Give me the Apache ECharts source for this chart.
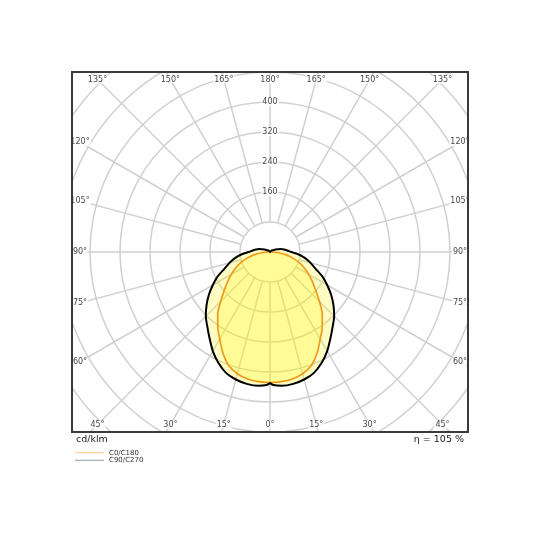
<!DOCTYPE html>
<html>
<head>
<meta charset="utf-8">
<script src="https://cdn.jsdelivr.net/npm/echarts@6/dist/echarts.min.js"></script>
<style>
html,body{margin:0;padding:0;background:#fff;}
#chart{width:540px;height:540px;}
</style>
</head>
<body>
<div id="chart"></div>
<script>
// ---------------- data ----------------
const seriesNames = ['C0/C180', 'C90/C270'];
// gamma angles (deg, 0 = nadir) and luminous intensity (cd/klm), symmetric halves
const gammaC0 = [0,5,10,15,20,25,30,35,40,45,50,55,60,65,70,75,80,85,90,95,100,105,110,115,120,125,130,135,140,145,150,155,160,165,170,175,180];
const valuesC0 = [348,347,344,336,322,297,268,243,217,186,159,138,119,101,84,63,44,23,3,0,0,0,0,0,0,0,0,0,0,0,0,0,0,0,0,0,0];
const gammaC90 = [0,1.5,5,10,15,20,25,30,35,40,45,50,55,60,65,70,75,80,85,90,95,100,105,110,115,120,130,140,150,160,170,177,180];
const valuesC90 = [349,355,358,357,352,343,326,305,281,260,242,221,199,176,154,129,112,95,77,57,46,38,30,22,16,11,6,4,3,2,1.5,1,0];
const angleTicks = [0,15,30,45,60,75,90,105,120,135,150,165,180];
const radiusTicks = [160,240,320,400];
const unitLabel = 'cd/klm';
const efficiencyLabel = 'η = 105 %';

// ---------------- layout ----------------
const BOX = {x0: 72, y0: 72, x1: 468, y1: 432};
const CX = (BOX.x0 + BOX.x1) / 2, CY = (BOX.y0 + BOX.y1) / 2;
const PX_PER_UNIT = 30 / 80;
const R_MAX = 720, R_STEP = 80;
const R_OUT = R_MAX * PX_PER_UNIT, R_IN = R_STEP * PX_PER_UNIT;
const LABEL_INSET_X = (BOX.x1 - BOX.x0) / 2 - 8;
const LABEL_INSET_Y = (BOX.y1 - BOX.y0) / 2 - 7.5;
const FONT = 'DejaVu Sans';
const GRID = '#d0d0d0';

// polar angle a: 0 at bottom, clockwise (left half a = gamma, right half a = 360 - gamma)
function buildCurve(gam, vals) {
  const out = [];
  for (let i = 0; i < gam.length; i++) out.push([vals[i], gam[i]]);
  for (let i = gam.length - 1; i >= 0; i--) {
    if (gam[i] >= 180) continue;
    out.push([vals[i], 360 - gam[i]]);
  }
  return out;
}

function edgeRadius(g) {
  const t = g * Math.PI / 180;
  const s = Math.abs(Math.sin(t)), c = Math.abs(Math.cos(t));
  const rx = s > 1e-9 ? LABEL_INSET_X / s : Infinity;
  const ry = c > 1e-9 ? LABEL_INSET_Y / c : Infinity;
  return Math.min(rx, ry) / PX_PER_UNIT;
}
const edgeLabelData = [];
angleTicks.forEach(g => {
  const r = edgeRadius(g);
  edgeLabelData.push({value: [r, g], name: g + '°'});
  if (g > 0 && g < 180) edgeLabelData.push({value: [r, 360 - g], name: g + '°'});
});
const radiusLabelData = radiusTicks.map(v => ({value: [v, 180], name: String(v)}));

const hiddenAxis = {axisLine:{show:false}, axisTick:{show:false}, axisLabel:{show:false}, splitLine:{show:false}};

const chart = echarts.init(document.getElementById('chart'), null, {renderer: 'canvas'});
chart.setOption({
  animation: false,
  backgroundColor: '#fff',
  textStyle: {fontFamily: FONT},
  polar: [
    {center: [CX, CY], radius: [R_IN, R_OUT]},
    {center: [CX, CY], radius: [0, R_OUT]}
  ],
  angleAxis: [
    {polarIndex: 0, type: 'value', min: 0, max: 360, interval: 15, startAngle: 270, clockwise: true,
     axisLine: {show: false}, axisTick: {show: false}, axisLabel: {show: false},
     splitLine: {show: true, lineStyle: {color: GRID, width: 1.5}}},
    Object.assign({polarIndex: 1, type: 'value', min: 0, max: 360, startAngle: 270, clockwise: true}, hiddenAxis)
  ],
  radiusAxis: [
    {polarIndex: 0, type: 'value', min: R_STEP, max: R_MAX, interval: R_STEP,
     axisLine: {show: false}, axisTick: {show: false}, axisLabel: {show: false},
     splitLine: {show: true, lineStyle: {color: GRID, width: 1.5}}},
    Object.assign({polarIndex: 1, type: 'value', min: 0, max: R_MAX}, hiddenAxis)
  ],
  legend: {
    orient: 'vertical', left: 75, top: 449, itemGap: 0, padding: 0,
    icon: 'rect', itemWidth: 29, itemHeight: 1, selectedMode: false, z: 10,
    textStyle: {fontSize: 7, color: '#333', fontFamily: FONT, lineHeight: 7.5},
    data: [
      {name: seriesNames[0], itemStyle: {color: '#f6c88a'}},
      {name: seriesNames[1], itemStyle: {color: '#8f9ba8'}}
    ]
  },
  series: [
    {name: seriesNames[0], type: 'line', coordinateSystem: 'polar', polarIndex: 1,
     data: buildCurve(gammaC0, valuesC0), symbol: 'none', silent: true, z: 2, smooth: 0.25,
     lineStyle: {color: '#f09a18', width: 1.7},
     areaStyle: {color: 'rgba(255,246,0,0.33)'}},
    {name: seriesNames[1], type: 'line', coordinateSystem: 'polar', polarIndex: 1,
     data: buildCurve(gammaC90, valuesC90), symbol: 'none', silent: true, z: 2, smooth: 0.25,
     lineStyle: {color: '#000', width: 2},
     areaStyle: {color: 'rgba(255,246,0,0.33)'}},
    {type: 'scatter', coordinateSystem: 'polar', polarIndex: 0, data: radiusLabelData,
     symbolSize: 1, itemStyle: {color: 'transparent'}, silent: true, z: 2,
     label: {show: true, position: 'inside', formatter: p => p.name, fontSize: 8, color: '#111',
             fontFamily: FONT, backgroundColor: '#fff', padding: [0, 1]}},
    {type: 'scatter', coordinateSystem: 'polar', polarIndex: 1, data: edgeLabelData,
     symbolSize: 1, itemStyle: {color: 'transparent'}, silent: true, z: 2,
     label: {show: true, position: 'inside', formatter: p => p.name, fontSize: 8, color: '#111',
             fontFamily: FONT, backgroundColor: '#fff', padding: [0, 1]}}
  ],
  graphic: {elements: [
    {type: 'rect', z: 5, silent: true, shape: {x: 0, y: 0, width: 540, height: BOX.y0}, style: {fill: '#fff'}},
    {type: 'rect', z: 5, silent: true, shape: {x: 0, y: BOX.y1, width: 540, height: 540 - BOX.y1}, style: {fill: '#fff'}},
    {type: 'rect', z: 5, silent: true, shape: {x: 0, y: 0, width: BOX.x0, height: 540}, style: {fill: '#fff'}},
    {type: 'rect', z: 5, silent: true, shape: {x: BOX.x1, y: 0, width: 540 - BOX.x1, height: 540}, style: {fill: '#fff'}},
    {type: 'rect', z: 6, silent: true, shape: {x: BOX.x0, y: BOX.y0, width: BOX.x1 - BOX.x0, height: BOX.y1 - BOX.y0},
     style: {fill: null, stroke: '#3a3a3a', lineWidth: 2}},
    {type: 'text', z: 10, silent: true, x: 76, y: 440,
     style: {text: unitLabel, fontSize: 9.5, fontFamily: FONT, fill: '#222', align: 'left', verticalAlign: 'middle'}},
    {type: 'text', z: 10, silent: true, x: 464, y: 440,
     style: {text: efficiencyLabel, fontSize: 9.5, fontFamily: FONT, fill: '#222', align: 'right', verticalAlign: 'middle'}}
  ]}
});
</script>
</body>
</html>
